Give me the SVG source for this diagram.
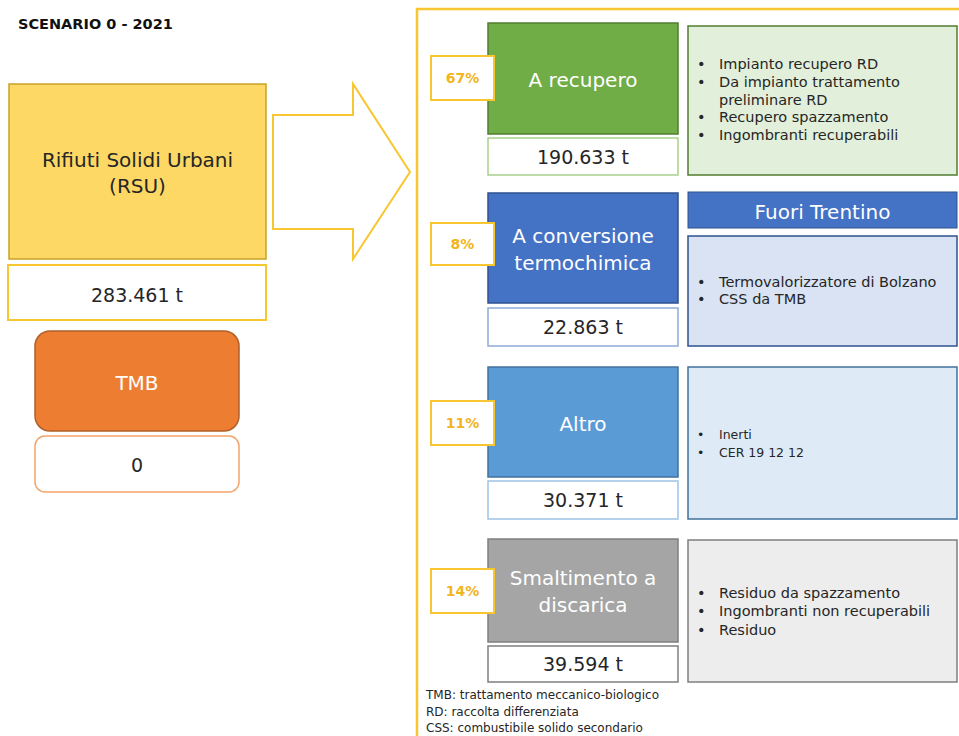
<svg xmlns="http://www.w3.org/2000/svg" width="959" height="736" viewBox="0 0 959 736">
<style>
text{font-family:"DejaVu Sans","Liberation Sans",sans-serif;fill:#262626}
.big{font-size:20px;text-anchor:middle}
.w{fill:#ffffff}
.val{font-size:19px;text-anchor:middle}
.pct{font-size:14px;font-weight:bold;fill:#F2B51C;text-anchor:middle}
.pbox{fill:#ffffff;stroke:#F8C630;stroke-width:2}
.li{font-size:14.5px}
.sm{font-size:12.5px}
.fn{font-size:12px}
</style>
<rect width="959" height="736" fill="#ffffff"/>
<text x="18" y="29" style="font-size:14.5px;font-weight:bold;fill:#111">SCENARIO 0 - 2021</text>

<g id="connectors">
<polygon points="273,115 353,115 353,84 410,172 353,259 353,229 273,229" fill="#ffffff" stroke="#F8C630" stroke-width="2"/>
</g>

<g id="container">
<rect x="417" y="9" width="560" height="740" fill="none" stroke="#F8C630" stroke-width="2.5"/>
</g>

<g id="rsu">
<rect x="9" y="84" width="257" height="175" fill="#FDD865" stroke="#C9A227" stroke-width="1.5"/>
<text class="big" x="137.5" y="167">Rifiuti Solidi Urbani</text>
<text class="big" x="137.5" y="193">(RSU)</text>
</g>
<g id="rsu-value">
<rect x="8" y="265" width="258" height="55" fill="#ffffff" stroke="#F8C630" stroke-width="2"/>
<text class="val" x="137" y="302">283.461 t</text>
</g>

<g id="tmb">
<rect x="35" y="331" width="204" height="100" rx="15" fill="#ED7D31" stroke="#B0602A" stroke-width="1.5"/>
<text class="big w" x="137" y="390">TMB</text>
</g>
<g id="tmb-value">
<rect x="35" y="436" width="204" height="56" rx="10" fill="#ffffff" stroke="#F3A46A" stroke-width="1.5"/>
<text class="val" x="137" y="472">0</text>
</g>

<g id="recupero">
<rect x="488" y="23" width="190" height="111" fill="#70AD47" stroke="#507E32" stroke-width="1.5"/>
<text class="big w" x="583" y="87">A recupero</text>
</g>
<g id="recupero-pct">
<rect class="pbox" x="431" y="56" width="63" height="44"/>
<text class="pct" x="462.5" y="83">67%</text>
</g>
<g id="recupero-value">
<rect x="488" y="138" width="190" height="37" fill="#ffffff" stroke="#A9D18E" stroke-width="1.5"/>
<text class="val" x="583" y="164">190.633 t</text>
</g>
<g id="recupero-desc">
<rect x="688" y="26" width="269" height="149" fill="#E2EFDA" stroke="#507E32" stroke-width="1.5"/>
<text class="li" x="697" y="69">•</text><text class="li" x="719" y="69">Impianto recupero RD</text>
<text class="li" x="697" y="87">•</text><text class="li" x="719" y="87">Da impianto trattamento</text>
<text class="li" x="719" y="105">preliminare RD</text>
<text class="li" x="697" y="122">•</text><text class="li" x="719" y="122">Recupero spazzamento</text>
<text class="li" x="697" y="140">•</text><text class="li" x="719" y="140">Ingombranti recuperabili</text>
</g>

<g id="conversione">
<rect x="488" y="193" width="190" height="110" fill="#4472C4" stroke="#2F528F" stroke-width="1.5"/>
<text class="big w" x="583" y="243">A conversione</text>
<text class="big w" x="583" y="270">termochimica</text>
</g>
<g id="conversione-pct">
<rect class="pbox" x="431" y="223" width="63" height="42"/>
<text class="pct" x="462.5" y="249">8%</text>
</g>
<g id="conversione-value">
<rect x="488" y="308" width="190" height="38" fill="#ffffff" stroke="#8FAADC" stroke-width="1.5"/>
<text class="val" x="583" y="334">22.863 t</text>
</g>
<g id="fuori-trentino">
<rect x="688" y="192" width="269" height="36" fill="#4472C4" stroke="#2F528F" stroke-width="1"/>
<text class="big w" x="822.5" y="219">Fuori Trentino</text>
</g>
<g id="conversione-desc">
<rect x="688" y="236" width="269" height="110" fill="#DAE3F3" stroke="#2F528F" stroke-width="1.5"/>
<text class="li" x="697" y="287">•</text><text class="li" x="719" y="287">Termovalorizzatore di Bolzano</text>
<text class="li" x="697" y="304">•</text><text class="li" x="719" y="304">CSS da TMB</text>
</g>

<g id="altro">
<rect x="488" y="367" width="190" height="110" fill="#5B9BD5" stroke="#41719C" stroke-width="1.5"/>
<text class="big w" x="583" y="431">Altro</text>
</g>
<g id="altro-pct">
<rect class="pbox" x="431" y="401" width="63" height="44"/>
<text class="pct" x="462.5" y="428">11%</text>
</g>
<g id="altro-value">
<rect x="488" y="481" width="190" height="38" fill="#ffffff" stroke="#9DC3E6" stroke-width="1.5"/>
<text class="val" x="583" y="507">30.371 t</text>
</g>
<g id="altro-desc">
<rect x="688" y="367" width="269" height="152" fill="#DEEBF7" stroke="#41719C" stroke-width="1.5"/>
<text class="sm" x="697" y="439">•</text><text class="sm" x="719" y="439">Inerti</text>
<text class="sm" x="697" y="457">•</text><text class="sm" x="719" y="457">CER 19 12 12</text>
</g>

<g id="discarica">
<rect x="488" y="539" width="190" height="103" fill="#A5A5A5" stroke="#7F7F7F" stroke-width="1.5"/>
<text class="big w" x="583" y="585">Smaltimento a</text>
<text class="big w" x="583" y="612">discarica</text>
</g>
<g id="discarica-pct">
<rect class="pbox" x="431" y="569" width="63" height="44"/>
<text class="pct" x="462.5" y="596">14%</text>
</g>
<g id="discarica-value">
<rect x="488" y="646" width="190" height="36" fill="#ffffff" stroke="#7F7F7F" stroke-width="1.5"/>
<text class="val" x="583" y="671">39.594 t</text>
</g>
<g id="discarica-desc">
<rect x="688" y="540" width="269" height="142" fill="#EDEDED" stroke="#7F7F7F" stroke-width="1.5"/>
<text class="li" x="697" y="598">•</text><text class="li" x="719" y="598">Residuo da spazzamento</text>
<text class="li" x="697" y="616">•</text><text class="li" x="719" y="616">Ingombranti non recuperabili</text>
<text class="li" x="697" y="635">•</text><text class="li" x="719" y="635">Residuo</text>
</g>

<g id="legend">
<text class="fn" x="426" y="699">TMB: trattamento meccanico-biologico</text>
<text class="fn" x="426" y="716">RD: raccolta differenziata</text>
<text class="fn" x="426" y="732">CSS: combustibile solido secondario</text>
</g>
</svg>
